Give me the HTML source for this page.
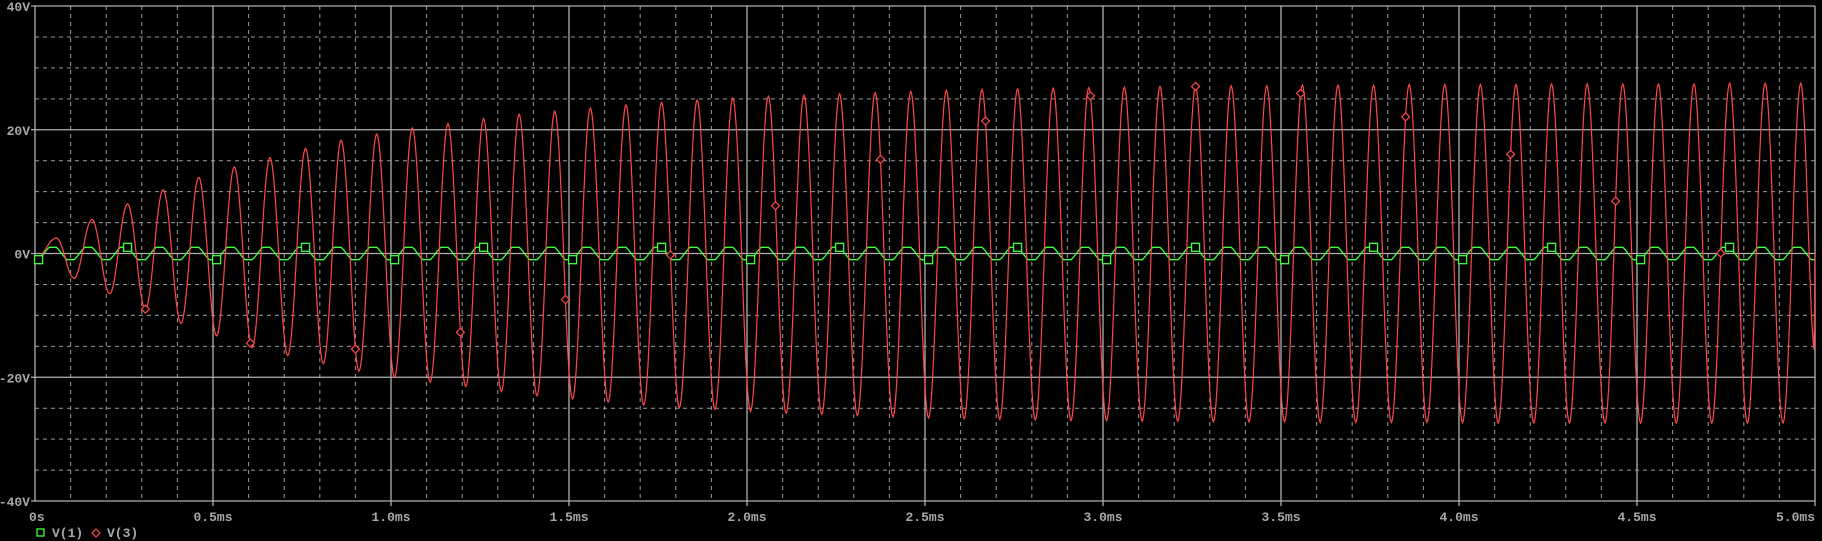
<!DOCTYPE html>
<html><head><meta charset="utf-8"><style>
html,body{margin:0;padding:0;background:#000;}
svg{display:block;}
text{font-family:"Liberation Mono",monospace;font-weight:bold;font-size:13px;fill:#a8a8a8;}
</style></head><body>
<svg id="chart" width="1822" height="541" xmlns="http://www.w3.org/2000/svg">
<rect width="1822" height="541" fill="#000"/>
<g id="grid"></g>
<g id="axes"></g>
<g id="series"></g>
<g>
<rect x="37" y="529" width="7" height="7" fill="none" stroke="#40ff40" stroke-width="1.3"/>
<text x="52" y="537">V(1)</text>
<path d="M96,529 L100,533 L96,537 L92,533 Z" fill="none" stroke="#ff4848" stroke-width="1.2"/>
<text x="107" y="537">V(3)</text>
</g>
</svg>
<script>
const xTicks=[0,0.5,1.0,1.5,2.0,2.5,3.0,3.5,4.0,4.5,5.0];
const xTickLabels=["0s","0.5ms","1.0ms","1.5ms","2.0ms","2.5ms","3.0ms","3.5ms","4.0ms","4.5ms","5.0ms"];
const yTicks=[40,20,0,-20,-40];
const yTickLabels=["40V","20V","0V","-20V","-40V"];
const v1Period=0.1; // ms
const v1Amp=1.0;
const v3Peaks=[2.5,5.5,8,10.3,12.3,14,15.5,17,18.3,19.3,20.3,21,21.8,22.5,23,23.5,24,24.4,24.8,25.1,25.4,25.6,25.8,26,26.2,26.4,26.5,26.6,26.7,26.8,26.9,27,27,27.1,27.1,27.2,27.2,27.2,27.3,27.3,27.3,27.3,27.4,27.4,27.4,27.4,27.4,27.5,27.5,27.5];
const v3Troughs=[-4,-6.5,-9,-11.3,-13.3,-15.2,-16.5,-17.8,-19,-20,-20.8,-21.5,-22.3,-23,-23.5,-24,-24.5,-24.9,-25.2,-25.5,-25.8,-26,-26.2,-26.4,-26.6,-26.7,-26.8,-26.9,-27,-27,-27.1,-27.1,-27.2,-27.2,-27.2,-27.3,-27.3,-27.3,-27.3,-27.3,-27.4,-27.4,-27.4,-27.4,-27.4,-27.4,-27.4,-27.4,-27.4,-27.4];
const NS="http://www.w3.org/2000/svg";
const L=35,R=1815,T=6,B=501;
function X(t){return L+(t/5)*(R-L);}
function Y(v){return T+(40-v)/80*(B-T);}
function mk(tag,attrs,parent){const e=document.createElementNS(NS,tag);for(const k in attrs)e.setAttribute(k,attrs[k]);parent.appendChild(e);return e;}
const grid=document.getElementById('grid'),axes=document.getElementById('axes'),series=document.getElementById('series');
for(let i=1;i<50;i++){if(i%5===0)continue;const x=X(i*0.1);
 const l=mk('line',{x1:x,x2:x,y1:T,y2:B,stroke:'#9a9a9a','stroke-width':1,'stroke-dasharray':'4,4'},grid);
 
 }
for(let v=-35;v<40;v+=5){if(v%20===0)continue;const y=Y(v);
 const l=mk('line',{x1:L,x2:R,y1:y,y2:y,stroke:'#9a9a9a','stroke-width':1,'stroke-dasharray':'4,4'},grid);
 
 }
xTicks.forEach((t,i)=>{const x=X(t);
 const l=mk('line',{x1:x,x2:x,y1:T,y2:B+(i===0?0:5),stroke:'#b0b0b0','stroke-width':1.3},grid);
 
 
 const last=i===xTicks.length-1, first=i===0;
 const tx=mk('text',{x:last?1815:(first?29:x),y:521,'text-anchor':last?'end':(first?'start':'middle')},axes);tx.textContent=xTickLabels[i];
 
 });
yTicks.forEach((v,i)=>{const y=Y(v);
 const l=mk('line',{x1:L-4,x2:R,y1:y,y2:y,stroke:'#b0b0b0','stroke-width':1.3},grid);
 
 
 const tx=mk('text',{x:30,y:y+5,'text-anchor':'end'},axes);tx.textContent=yTickLabels[i];
 
 });
let p1=[];
for(let t=0;t<=5;t+=0.005){let v=-v1Amp*Math.cos(2*Math.PI*t/v1Period)*1.25;v=Math.max(-v1Amp,Math.min(v1Amp,v));p1.push(X(t).toFixed(1)+','+Y(v).toFixed(1));}
const pl1=mk('polyline',{points:p1.join(' '),fill:'none',stroke:'#40ff40','stroke-width':1.3},series);


let ext=[[0,-1]];
for(let i=0;i<v3Peaks.length;i++){ext.push([0.06+0.1*i,v3Peaks[i]]);if(0.11+0.1*i<=5.0)ext.push([0.11+0.1*i,v3Troughs[i]]);}
ext.push([5.0,-16]);
function v3At(t){for(let k=0;k<ext.length-1;k++){const a=ext[k],b=ext[k+1];if(t>=a[0]&&t<=b[0]){const f=(t-a[0])/(b[0]-a[0]);const c=(1-Math.cos(Math.PI*f))/2;return a[1]+(b[1]-a[1])*c;}}return 0;}
let p3=[];
for(let t=0;t<=5.0001;t+=0.0025){p3.push(X(t).toFixed(1)+','+Y(v3At(t)).toFixed(1));}
const pl3=mk('polyline',{points:p3.join(' '),fill:'none',stroke:'#ff4848','stroke-width':1.2},series);


for(let t=0.01;t<5;t+=0.25){let v=-v1Amp*Math.cos(2*Math.PI*t/v1Period)*1.25;v=Math.max(-v1Amp,Math.min(v1Amp,v));
 const m=mk('rect',{x:X(t)-4,y:Y(v)-4,width:8,height:8,fill:'#000',stroke:'#40ff40','stroke-width':1.3},series);
 
 }
for(let t=0.31;t<5;t+=0.295){const x=X(t),y=Y(v3At(t));
 const m=mk('path',{d:`M${x},${y-4} L${x+4},${y} L${x},${y+4} L${x-4},${y} Z`,fill:'#000',stroke:'#ff4848','stroke-width':1.2},series);
 
 }
</script>
</body></html>
